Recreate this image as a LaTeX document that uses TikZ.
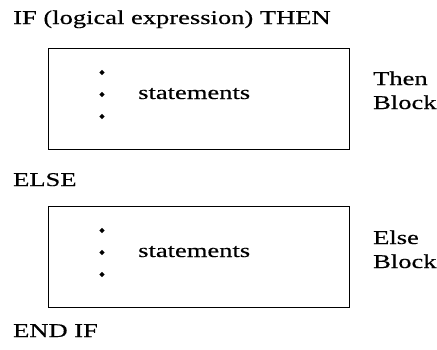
\documentclass[tikz,border=0pt]{standalone}
\usepackage{fontspec}
\usetikzlibrary{shapes.geometric}
\setmainfont{Liberation Serif}[FakeStretch=1.36,FakeBold=0.4]
\begin{document}
\begin{tikzpicture}[x=1pt,y=-1pt,
  kw/.style={anchor=base west,inner sep=0pt,font=\fontsize{19.5}{22}\selectfont},
  blockbox/.style={draw=black,line width=1.1pt,minimum width=301pt,minimum height=101pt,inner sep=0pt,anchor=north west},
  dot/.style={diamond,fill=black,inner sep=0pt,minimum size=5.4pt}]
\useasboundingbox (0,0) rectangle (437,349);
% keywords of the IF construct
\node[kw] (if) at (13,24) {IF (logical expression) THEN};
\node[kw] (else) at (13,186) {ELSE};
\node[kw] (endif) at (13,337) {END IF};
% THEN block
\node[blockbox] (thenbox) at (47.5,47.5) {};
\node[dot] (t1) at (102,72.5) {};
\node[dot] (t2) at (102,94.5) {};
\node[dot] (t3) at (102,116.5) {};
\node[kw] (tstat) at (138,99) {statements};
\node[kw] (tlab1) at (373,85) {Then};
\node[kw] (tlab2) at (373,109) {Block};
% ELSE block
\node[blockbox] (elsebox) at (47.5,205.5) {};
\node[dot] (e1) at (102,230.5) {};
\node[dot] (e2) at (102,252.5) {};
\node[dot] (e3) at (102,274.5) {};
\node[kw] (estat) at (138,257) {statements};
\node[kw] (elab1) at (373,244) {Else};
\node[kw] (elab2) at (373,268) {Block};
\end{tikzpicture}
\end{document}
